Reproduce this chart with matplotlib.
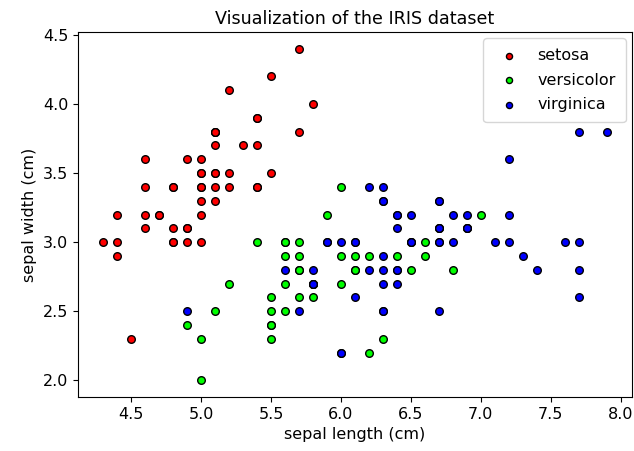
import matplotlib
matplotlib.use("Agg")
import matplotlib.pyplot as plt

species = ["setosa", "versicolor", "virginica"]
colors = ["red", "lime", "blue"]

setosa_len = [5.1, 4.9, 4.7, 4.6, 5.0, 5.4, 4.6, 5.0, 4.4, 4.9, 5.4, 4.8, 4.8, 4.3, 5.8, 5.7, 5.4,
              5.1, 5.7, 5.1, 5.4, 5.1, 4.6, 5.1, 4.8, 5.0, 5.0, 5.2, 5.2, 4.7, 4.8, 5.4, 5.2, 5.5,
              4.9, 5.0, 5.5, 4.9, 4.4, 5.1, 5.0, 4.5, 4.4, 5.0, 5.1, 4.8, 5.1, 4.6, 5.3, 5.0]
setosa_wid = [3.5, 3.0, 3.2, 3.1, 3.6, 3.9, 3.4, 3.4, 2.9, 3.1, 3.7, 3.4, 3.0, 3.0, 4.0, 4.4, 3.9,
              3.5, 3.8, 3.8, 3.4, 3.7, 3.6, 3.3, 3.4, 3.0, 3.4, 3.5, 3.4, 3.2, 3.1, 3.4, 4.1, 4.2,
              3.1, 3.2, 3.5, 3.6, 3.0, 3.4, 3.5, 2.3, 3.2, 3.5, 3.8, 3.0, 3.8, 3.2, 3.7, 3.3]

versicolor_len = [7.0, 6.4, 6.9, 5.5, 6.5, 5.7, 6.3, 4.9, 6.6, 5.2, 5.0, 5.9, 6.0, 6.1, 5.6, 6.7, 5.6,
                  5.8, 6.2, 5.6, 5.9, 6.1, 6.3, 6.1, 6.4, 6.6, 6.8, 6.7, 6.0, 5.7, 5.5, 5.5, 5.8, 6.0,
                  5.4, 6.0, 6.7, 6.3, 5.6, 5.5, 5.5, 6.1, 5.8, 5.0, 5.6, 5.7, 5.7, 6.2, 5.1, 5.7]
versicolor_wid = [3.2, 3.2, 3.1, 2.3, 2.8, 2.8, 3.3, 2.4, 2.9, 2.7, 2.0, 3.0, 2.2, 2.9, 2.9, 3.1, 3.0,
                  2.7, 2.2, 2.5, 3.2, 2.8, 2.5, 2.8, 2.9, 3.0, 2.8, 3.0, 2.9, 2.6, 2.4, 2.4, 2.7, 2.7,
                  3.0, 3.4, 3.1, 2.3, 3.0, 2.5, 2.6, 3.0, 2.6, 2.3, 2.7, 3.0, 2.9, 2.9, 2.5, 2.8]

virginica_len = [6.3, 5.8, 7.1, 6.3, 6.5, 7.6, 4.9, 7.3, 6.7, 7.2, 6.5, 6.4, 6.8, 5.7, 5.8, 6.4, 6.5,
                 7.7, 7.7, 6.0, 6.9, 5.6, 7.7, 6.3, 6.7, 7.2, 6.2, 6.1, 6.4, 7.2, 7.4, 7.9, 6.4, 6.3,
                 6.1, 7.7, 6.3, 6.4, 6.0, 6.9, 6.7, 6.9, 5.8, 6.8, 6.7, 6.7, 6.3, 6.5, 6.2, 5.9]
virginica_wid = [3.3, 2.7, 3.0, 2.9, 3.0, 3.0, 2.5, 2.9, 2.5, 3.6, 3.2, 2.7, 3.0, 2.5, 2.8, 3.2, 3.0,
                 3.8, 2.6, 2.2, 3.2, 2.8, 2.8, 2.7, 3.3, 3.2, 2.8, 3.0, 2.8, 3.0, 2.8, 3.8, 2.8, 2.8,
                 2.6, 3.0, 3.4, 3.1, 3.0, 3.1, 3.1, 3.1, 2.7, 3.2, 3.3, 3.0, 2.5, 3.0, 3.4, 3.0]

lengths = [setosa_len, versicolor_len, virginica_len]
widths = [setosa_wid, versicolor_wid, virginica_wid]

plt.rcParams["font.size"] = 11.5

fig = plt.figure(figsize=(6.34, 4.51), dpi=100)
ax = fig.add_axes([78 / 634, 1 - 397 / 451, 554 / 634, 365 / 451])

for name, c, x, y in zip(species, colors, lengths, widths):
    ax.scatter(x, y, c=c, edgecolors="black", s=30, label=name)

ax.set_title("Visualization of the IRIS dataset", fontsize=12.6)
ax.set_xlabel("sepal length (cm)")
ax.set_ylabel("sepal width (cm)")
ax.legend(loc="upper right", markerscale=0.8, borderpad=0.6, labelspacing=0.6,
          borderaxespad=0.4)

fig.savefig("out.png", dpi=100)
